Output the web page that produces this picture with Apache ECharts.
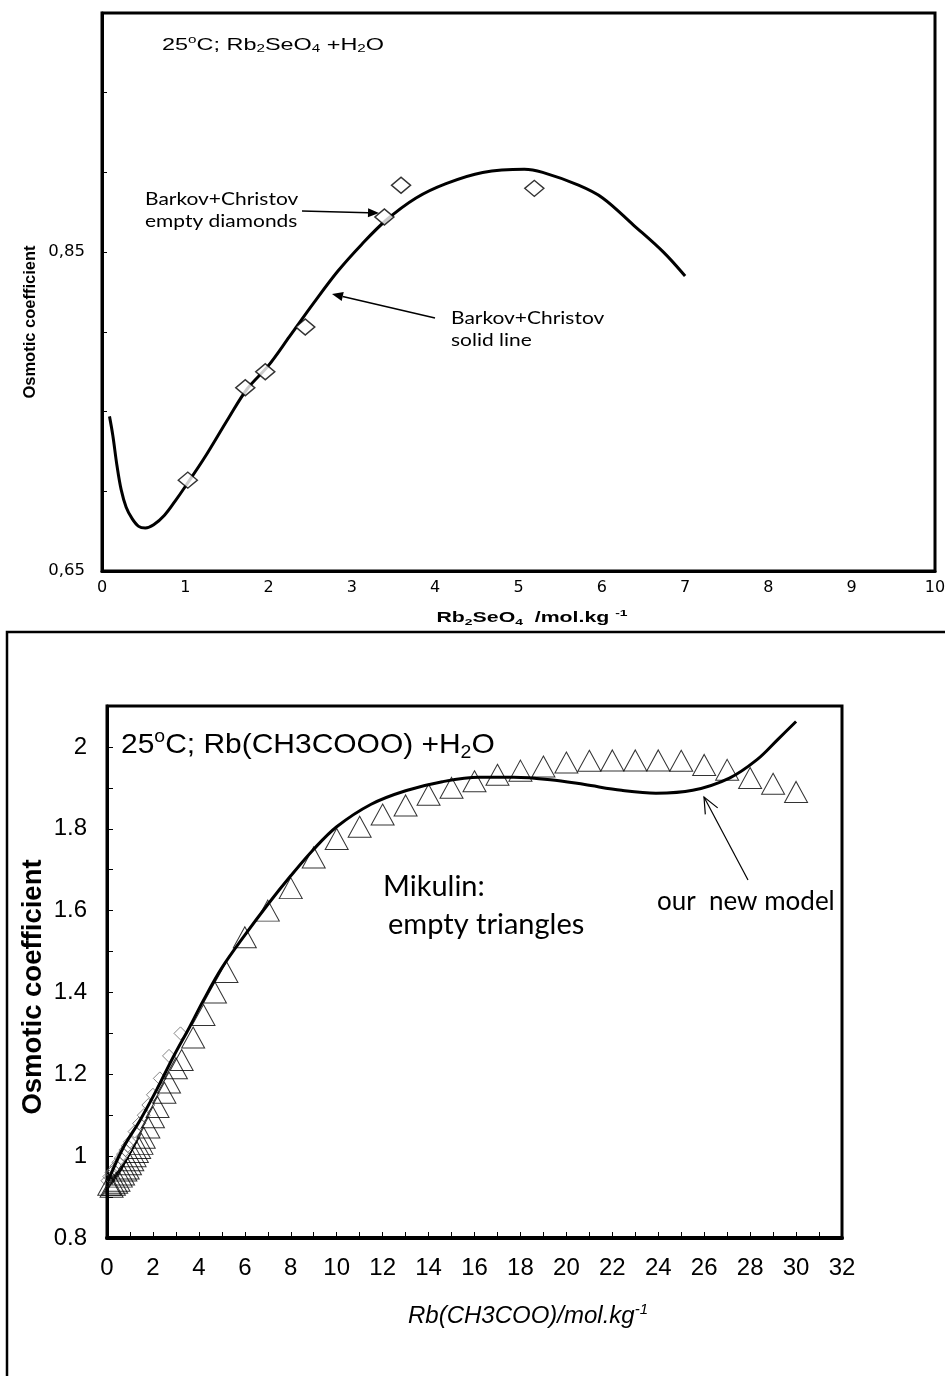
<!DOCTYPE html>
<html><head><meta charset="utf-8">
<script src="https://cdn.jsdelivr.net/npm/echarts@6/dist/echarts.min.js"></script>
<style>html,body{margin:0;padding:0;background:#fff}#c{width:945px;height:1376px}</style>
</head><body><div id="c"></div>
<script>
// ---------- Top chart: Rb2SeO4 ----------
const topLineX = [0.09,0.13,0.18,0.23,0.29,0.36,0.44,0.52,0.62,0.75,0.88,1.00,1.23,1.52,1.74,2.00,2.25,2.54,2.83,3.12,3.41,3.77,4.13,4.57,5.07,5.29,5.72,6.01,6.38,6.74,7.00];
const topLineY = [0.747,0.735,0.716,0.701,0.690,0.683,0.678,0.677,0.679,0.685,0.694,0.703,0.721,0.746,0.764,0.779,0.797,0.818,0.838,0.855,0.870,0.884,0.893,0.900,0.902,0.900,0.892,0.884,0.867,0.850,0.835];
const topDiamondX = [1.03,1.72,1.96,2.44,3.39,3.59,5.19];
const topDiamondY = [0.707,0.765,0.775,0.803,0.872,0.892,0.890];
const topYLabelValues = [0.65, 0.85];
const topYLabelTexts = ['0,65', '0,85'];

// ---------- Bottom chart: Rb(CH3COO) ----------
const botLineX = [0.05,0.7,1.44,2.16,2.89,3.61,4.19,5,6,7,8,9,10,11.5,13,14.6,16.2,17.7,19.3,20.8,22.4,23.9,25.5,27.1,28.3,29.2,30];
const botLineY = [0.94,1.02,1.088,1.162,1.243,1.317,1.38,1.46,1.54,1.615,1.685,1.75,1.805,1.86,1.893,1.915,1.926,1.926,1.92,1.908,1.894,1.887,1.894,1.924,1.969,2.018,2.062];
const botTriX = [0.1,0.2,0.3,0.4,0.5,0.6,0.7,0.8,0.9,1.0,1.1,1.2,1.3,1.4,1.5,1.6,1.8,2.0,2.2,2.5,2.7,3.0,3.25,3.75,4.2,4.7,5.2,6,7,8,9,10,11,12,13,14,15,16,17,18,19,20,21,22,23,24,25,26,27,28,29,30];
const botTriY = [0.93,0.925,0.93,0.935,0.94,0.95,0.955,0.965,0.97,0.98,0.99,1.0,1.01,1.02,1.03,1.045,1.07,1.095,1.12,1.155,1.18,1.215,1.235,1.29,1.345,1.40,1.45,1.535,1.60,1.655,1.73,1.775,1.805,1.835,1.857,1.883,1.900,1.916,1.932,1.942,1.952,1.962,1.966,1.967,1.967,1.967,1.966,1.956,1.944,1.924,1.91,1.89];
const botDiaX = [0.02,0.1,0.2,0.3,0.4,0.5,0.6,0.7,0.8,0.9,1.0,1.2,1.4,1.6,1.8,2.0,2.3,2.7,3.2];
const botDiaY = [0.94,0.95,0.96,0.965,0.975,0.985,0.995,1.005,1.015,1.025,1.035,1.06,1.08,1.10,1.125,1.15,1.19,1.245,1.30];

const zip = (a, b) => a.map((v, i) => [v, b[i]]);

function arrow(x1, y1, x2, y2, len, halfW, filled, lw) {
  const dx = x2 - x1, dy = y2 - y1, d = Math.hypot(dx, dy);
  const ux = dx / d, uy = dy / d, px = -uy, py = ux;
  const bx = x2 - ux * len, by = y2 - uy * len;
  const p1 = [bx + px * halfW, by + py * halfW], p2 = [bx - px * halfW, by - py * halfW];
  const els = [{ type: 'line', z: 100, shape: { x1, y1, x2: filled ? bx : x2, y2: filled ? by : y2 },
    style: { stroke: '#000', lineWidth: lw } }];
  if (filled) {
    els.push({ type: 'polygon', z: 100, shape: { points: [[x2, y2], p1, p2] }, style: { fill: '#000' } });
  } else {
    els.push({ type: 'polyline', z: 100, shape: { points: [p1, [x2, y2], p2] }, style: { stroke: '#000', lineWidth: lw, fill: 'none' } });
  }
  return els;
}

function txt(x, y, text, o) {
  o = o || {};
  return {
    type: 'text', z: 100, x, y, scaleX: o.scaleX || 1, rotation: o.rotation || 0,
    style: {
      x: 0, y: 0, text, fill: '#000',
      fontSize: o.size, fontFamily: o.family || 'Liberation Sans',
      fontWeight: o.weight || 'normal', fontStyle: o.style || 'normal',
      align: o.align || 'left', textAlign: o.align || 'left',
      verticalAlign: 'middle', textVerticalAlign: 'middle',
      lineHeight: o.lineHeight, rich: o.rich
    }
  };
}

const chart = echarts.init(document.getElementById('c'));

const subSup = (s, extra) => ({
  sub: Object.assign({ fontSize: s * 0.65, lineHeight: s * 0.65, verticalAlign: 'bottom', fontFamily: 'Liberation Sans' }, extra || {}),
  sup: Object.assign({ fontSize: s * 0.65, lineHeight: s * 0.65, verticalAlign: 'top', fontFamily: 'Liberation Sans' }, extra || {})
});

const axisBase = (w) => ({
  axisLine: { show: true, onZero: false, lineStyle: { color: '#000', width: w } },
  splitLine: { show: false }
});

const option = {
  animation: false,
  backgroundColor: '#fff',
  grid: [
    { left: 102, top: 13, width: 833, height: 558, show: true, borderColor: '#000', borderWidth: 3, backgroundColor: 'rgba(0,0,0,0)', containLabel: false, outerBoundsMode: 'none' },
    { left: 107, top: 706, width: 735, height: 532, show: true, borderColor: '#000', borderWidth: 3, backgroundColor: 'rgba(0,0,0,0)', containLabel: false, outerBoundsMode: 'none' }
  ],
  xAxis: [
    Object.assign({ type: 'value', gridIndex: 0, min: 0, max: 10, interval: 1,
      axisTick: { show: false },
      axisLabel: { color: '#000', fontFamily: 'DejaVu Sans', fontSize: 16, margin: 9 } }, axisBase(3)),
    Object.assign({ type: 'value', gridIndex: 1, min: 0, max: 32, interval: 1,
      axisTick: { show: true, inside: true, length: 6, lineStyle: { color: '#000', width: 1 } },
      axisLabel: { color: '#000', fontFamily: 'Liberation Sans', fontSize: 24, margin: 18,
        formatter: v => (Math.round(v) % 2 === 0 ? String(Math.round(v)) : '') } }, axisBase(4))
  ],
  yAxis: [
    Object.assign({ type: 'value', gridIndex: 0, min: 0.65, max: 1.0, interval: 0.05,
      axisTick: { show: true, inside: true, length: 5, lineStyle: { color: '#000', width: 1 } },
      axisLabel: { color: '#000', fontFamily: 'DejaVu Sans', fontSize: 16.5, margin: 17,
        formatter: v => { const i = topYLabelValues.findIndex(t => Math.abs(t - v) < 1e-6); return i >= 0 ? topYLabelTexts[i] : ''; } } }, axisBase(3)),
    Object.assign({ type: 'value', gridIndex: 1, min: 0.8, max: 2.1, interval: 0.1,
      axisTick: { show: true, inside: true, length: 6, lineStyle: { color: '#000', width: 1 } },
      axisLabel: { color: '#000', fontFamily: 'Liberation Sans', fontSize: 24, margin: 20,
        formatter: v => { const r = Math.round(v * 10); return (r % 2 === 0 && r <= 20) ? String(r / 10) : ''; } } }, axisBase(3))
  ],
  series: [
    { type: 'line', xAxisIndex: 0, yAxisIndex: 0, data: zip(topLineX, topLineY), smooth: 0.35,
      symbol: 'none', lineStyle: { color: '#000', width: 3 }, z: 5, clip: false, silent: true },
    { type: 'scatter', xAxisIndex: 0, yAxisIndex: 0, data: zip(topDiamondX, topDiamondY),
      symbol: 'diamond', symbolSize: [19, 16], z: 6, clip: false, silent: true,
      itemStyle: { color: '#fff', borderColor: '#000', borderWidth: 1.5 } },
    { type: 'scatter', xAxisIndex: 1, yAxisIndex: 1, data: zip(botDiaX, botDiaY),
      symbol: 'diamond', symbolSize: [13, 13], z: 3, clip: false, silent: true,
      itemStyle: { color: 'rgba(0,0,0,0)', borderColor: '#666', borderWidth: 1 } },
    { type: 'scatter', xAxisIndex: 1, yAxisIndex: 1, data: zip(botTriX, botTriY),
      symbol: 'triangle', symbolSize: [23, 21], z: 4, clip: false, silent: true,
      itemStyle: { color: 'rgba(0,0,0,0)', borderColor: '#000', borderWidth: 1 } },
    { type: 'line', xAxisIndex: 1, yAxisIndex: 1, data: zip(botLineX, botLineY), smooth: 0.35,
      symbol: 'none', lineStyle: { color: '#000', width: 3 }, z: 5, clip: false, silent: true }
  ],
  graphic: [].concat(
    [
      // bottom panel outer frame
      { type: 'rect', z: 90, shape: { x: 7, y: 632, width: 980, height: 800 }, style: { fill: 'none', stroke: '#000', lineWidth: 2.5 } },
      // top chart texts
      txt(162, 45, '25{sup|o}C; Rb{sub|2}SeO{sub|4} +H{sub|2}O', { size: 16.5, scaleX: 1.42, lineHeight: 20, rich: subSup(16.5) }),
      txt(145, 211, 'Barkov+Christov\nempty diamonds', { size: 16.5, family: 'Lato', scaleX: 1.27, lineHeight: 22 }),
      txt(451, 330, 'Barkov+Christov\nsolid line', { size: 16.5, family: 'Lato', scaleX: 1.27, lineHeight: 22 }),
      txt(30, 322, 'Osmotic coefficient', { size: 16.5, weight: 'bold', align: 'center', rotation: Math.PI / 2 }),
      txt(532, 618, 'Rb{sub|2}SeO{sub|4}  /mol.kg {sup|-1}', { size: 15, weight: 'bold', align: 'center', scaleX: 1.42, lineHeight: 19,
        rich: subSup(15, { fontWeight: 'bold' }) }),
      // bottom chart texts
      txt(121, 745, '25{sup|o}C; Rb(CH3COOO) +H{sub|2}O', { size: 28, scaleX: 1.07, lineHeight: 34, rich: subSup(28) }),
      txt(383, 887, 'Mikulin:', { size: 29, family: 'Lato' }),
      txt(388, 925, 'empty triangles', { size: 29, family: 'Lato' }),
      txt(657, 902, 'our  new model', { size: 26, family: 'Lato' }),
      txt(33, 987, 'Osmotic coefficient', { size: 27.5, weight: 'bold', align: 'center', rotation: Math.PI / 2 }),
      txt(528, 1316, 'Rb(CH3COO)/mol.kg{sup|-1}', { size: 24, style: 'italic', align: 'center', lineHeight: 28,
        rich: { sup: { fontSize: 15, lineHeight: 15, verticalAlign: 'top', fontStyle: 'italic', fontFamily: 'Liberation Sans' } } })
    ],
    arrow(302, 211, 379, 213, 11, 4.5, true, 1.5),
    arrow(435, 318, 332, 294, 11, 4.5, true, 1.5),
    arrow(748, 880, 704, 797, 16, 7, false, 1.2)
  )
};
chart.setOption(option);
</script></body></html>
